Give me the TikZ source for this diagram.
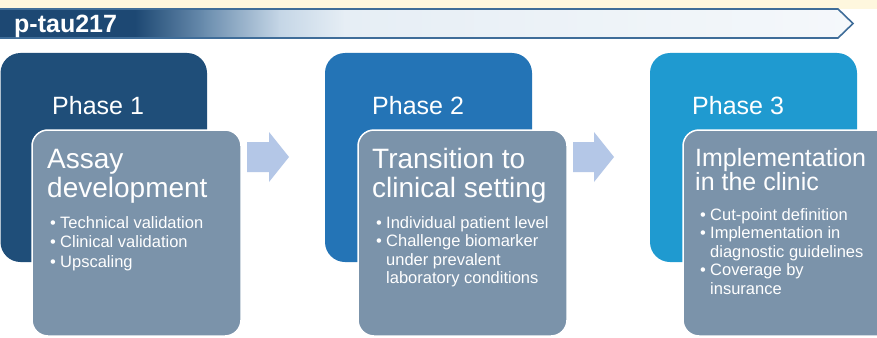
\documentclass[tikz,border=0pt]{standalone}
\usepackage{fontspec}
\setmainfont{Liberation Sans}
\definecolor{cream}{HTML}{FEF7DE}
\definecolor{bnA}{HTML}{1D4873}
\definecolor{bnB}{HTML}{6A8DAE}
\definecolor{bnC}{HTML}{C5D6E6}
\definecolor{bnD}{HTML}{E6EEF5}
\definecolor{bnE}{HTML}{F5F8FB}
\definecolor{bline}{HTML}{3F6D99}
\definecolor{darkA}{HTML}{1F4E79}
\definecolor{darkB}{HTML}{2474B6}
\definecolor{darkC}{HTML}{1F9AD0}
\definecolor{front}{HTML}{7B93AA}
\definecolor{arrowc}{HTML}{B4C7E7}
\tikzset{
  phase/.style={anchor=base west, inner sep=0pt, text=white, font=\fontsize{25}{25}\selectfont},
  ttl/.style={anchor=base west, inner sep=0pt, text=white, font=\fontsize{28}{28}\selectfont},
  ttlsm/.style={anchor=base west, inner sep=0pt, text=white, font=\fontsize{25}{25}\selectfont},
  itm/.style={anchor=base west, inner sep=0pt, text=white, font=\fontsize{16.5}{16.5}\selectfont},
  backbox/.style={rounded corners=20pt},
  frontbox/.style={fill=front, draw=white, line width=1.5pt, rounded corners=16pt},
  flowarrow/.style={fill=arrowc}
}
\begin{document}
\begin{tikzpicture}[x=1pt,y=-1pt]
\useasboundingbox (0,0) rectangle (877,337);
\clip (0,0) rectangle (877,337);
\fill[white] (0,0) rectangle (877,337);
\fill[cream] (0,0) rectangle (877,9);
% banner
\begin{scope}
\clip (0,9) -- (838,9) -- (853,23.5) -- (838,38) -- (0,38) -- cycle;
\fill[bnA] (0,0) rectangle (136,40);
\shade[left color=bnA, right color=bnB] (135,0) rectangle (205,40);
\shade[left color=bnB, right color=bnC] (204,0) rectangle (280,40);
\shade[left color=bnC, right color=bnD] (279,0) rectangle (345,40);
\shade[left color=bnD, right color=bnE] (344,0) rectangle (860,40);
\end{scope}
\draw[bline, line width=1.6pt] (0,9) -- (838,9) -- (853,23.5) -- (838,38) -- (0,38);
\node[anchor=base west, inner sep=0pt, text=white, font=\bfseries\fontsize{25}{25}\selectfont] (ttlbar) at (14,33) {p-tau217};
% back boxes
\fill[darkA, backbox] (0.5,53) rectangle (207,262);
\fill[darkB, backbox] (325,53) rectangle (532,262);
\fill[darkC, backbox] (650,53) rectangle (857,262);
% front boxes
\filldraw[frontbox] (32,130) rectangle (241,336);
\filldraw[frontbox] (358,130) rectangle (567,336);
\filldraw[frontbox] (683,130) rectangle (900,336);
% arrows
\fill[flowarrow] (247,142) -- (269,142) -- (269,132) -- (289,157) -- (269,182) -- (269,172) -- (247,172) -- cycle;
\fill[flowarrow] (573,142) -- (594,142) -- (594,132) -- (614,157) -- (594,182) -- (594,172) -- (573,172) -- cycle;
% phase 1
\node[phase] (ph1) at (52,114) {Phase 1};
\node[ttl] (t1a) at (47,168) {Assay};
\node[ttl] (t1b) at (47,197) {development};
\node[itm] (b1a) at (50,228) {•};
\node[itm] (i1a) at (60,228) {Technical validation};
\node[itm] (b1b) at (50,247.5) {•};
\node[itm] (i1b) at (60,247.5) {Clinical validation};
\node[itm] (b1c) at (50,267) {•};
\node[itm] (i1c) at (60,267) {Upscaling};
% phase 2
\node[phase] (ph2) at (372,114) {Phase 2};
\node[ttl] (t2a) at (372,168) {Transition to};
\node[ttl] (t2b) at (372,197) {clinical setting};
\node[itm] (b2a) at (376,228) {•};
\node[itm] (i2a) at (386,228) {Individual patient level};
\node[itm] (b2b) at (376,246.5) {•};
\node[itm] (i2b) at (386,246.5) {Challenge biomarker};
\node[itm] (i2c) at (386,265) {under prevalent};
\node[itm] (i2d) at (386,283.5) {laboratory conditions};
% phase 3
\node[phase] (ph3) at (692,114) {Phase 3};
\node[ttlsm] (t3a) at (695,166) {Implementation};
\node[ttlsm] (t3b) at (695,190) {in the clinic};
\node[itm] (b3a) at (700,220) {•};
\node[itm] (i3a) at (710,220) {Cut-point definition};
\node[itm] (b3b) at (700,238.5) {•};
\node[itm] (i3b) at (710,238.5) {Implementation in};
\node[itm] (i3c) at (710,257) {diagnostic guidelines};
\node[itm] (b3c) at (700,275.5) {•};
\node[itm] (i3d) at (710,275.5) {Coverage by};
\node[itm] (i3e) at (710,294) {insurance};
\end{tikzpicture}
\end{document}
